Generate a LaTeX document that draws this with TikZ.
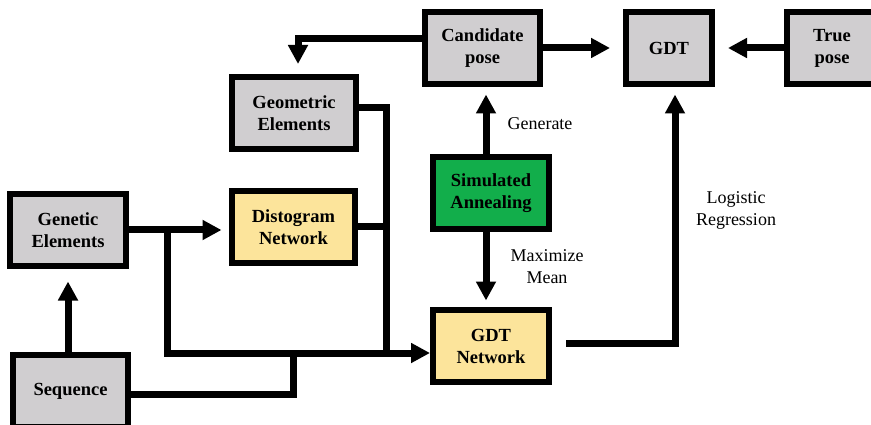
\documentclass[tikz,border=0pt]{standalone}
\usepackage{fontspec}
\setmainfont{Liberation Serif}
\usetikzlibrary{arrows.meta}
\definecolor{boxgray}{RGB}{208,206,208}
\definecolor{boxyellow}{RGB}{252,228,155}
\definecolor{boxgreen}{RGB}{18,174,75}
\tikzset{
  blk/.style={draw=black, line width=6pt, minimum width=#1, minimum height=72pt,
    inner sep=0pt, align=center, font=\fontsize{18.5pt}{22pt}\selectfont\bfseries},
  graybox/.style={blk=#1, fill=boxgray},
  yelbox/.style={blk=#1, fill=boxyellow},
  grnbox/.style={blk=#1, fill=boxgreen},
  conn/.style={line width=7pt},
  arr/.style={line width=7pt, -{Triangle[width=19pt,length=19pt]}},
  lbl/.style={align=center, font=\fontsize{18pt}{22pt}\selectfont, inner sep=0pt}
}
\begin{document}
\begin{tikzpicture}[x=1pt,y=-1pt]
\useasboundingbox (0,0) rectangle (871,425);
% nodes
\node[graybox=115pt] (cand) at (482.5,48) {Candidate\\pose};
\node[graybox=86pt] (gdt) at (669,48) {GDT};
\node[graybox=90pt] (true) at (832,48) {True\\pose};
\node[graybox=124pt] (geo) at (294,113) {Geometric\\Elements};
\node[yelbox=123pt] (dist) at (293.5,227) {Distogram\\Network};
\node[graybox=116pt] (gen) at (68,230) {Genetic\\Elements};
\node[graybox=115pt] (seq) at (70.5,391) {Sequence};
\node[grnbox=116pt] (sim) at (491,193) {Simulated\\Annealing};
\node[yelbox=116pt] (net) at (491,346) {GDT\\Network};
% labels
\node[lbl] (lgen) at (540,124) {Generate};
\node[lbl] (lmax) at (547,267) {Maximize\\Mean};
\node[lbl] (llog) at (736,210) {Logistic\\Regression};
% junction coordinates
\coordinate (gj) at (386,353);
\coordinate (bj) at (167,353);
\coordinate (sj) at (293,353);
\coordinate (rj) at (675,343);
% connectors
\draw[arr, shorten >=13pt] (cand.east) -- (gdt.west);
\draw[arr, shorten >=13pt] (true.west) -- (gdt.east);
\draw[arr, shorten >=10pt] ([yshift=9pt]cand.west) -| ([xshift=4pt]geo.north);
\draw[arr, shorten <=-4pt, shorten >=7.5pt] ([xshift=-5pt]sim.north) -- ([xshift=-5pt]sim.north |- cand.south);
\draw[arr, shorten <=-4pt, shorten >=6.5pt] ([xshift=-5pt]sim.south) -- ([xshift=-5pt]sim.south |- net.north);
\draw[arr, shorten <=14pt, shorten >=7.5pt] ([yshift=3pt]net.east) -| (rj |- gdt.south);
\draw[conn] ([yshift=5pt]geo.east) -| (gj);
\draw[conn] (dist.east) -| (gj);
\draw[arr, shorten >=7.5pt] (gen.east) -- (gen.east -| dist.west);
\draw[arr] (bj |- gen.east) -- (bj) -- (net.west |- bj);
\draw[arr, shorten >=12.5pt] (seq.north -| gen.south) -- (gen.south);
\draw[conn] ([yshift=-3pt]seq.east) -| (sj);
\end{tikzpicture}
\end{document}
